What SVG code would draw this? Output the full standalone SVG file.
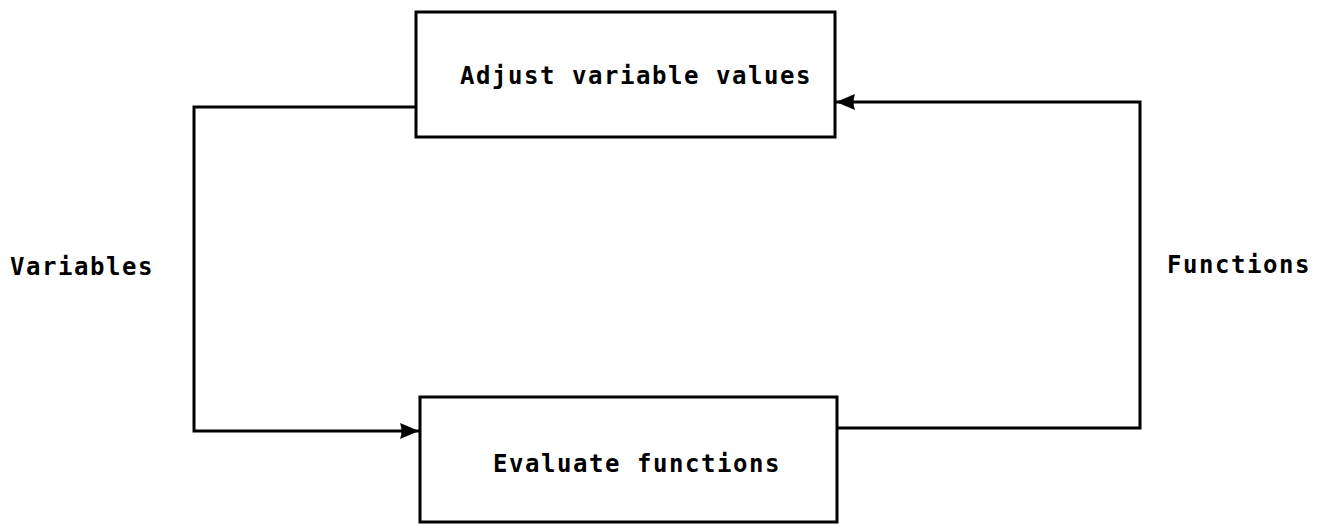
<svg xmlns="http://www.w3.org/2000/svg" width="1325" height="524" viewBox="0 0 1325 524">
  <style>
    .box { fill: #ffffff; stroke: #000000; stroke-width: 3; }
    .wire { fill: none; stroke: #000000; stroke-width: 3; }
    .lbl { font-family: "DejaVu Sans Mono", "Liberation Mono", monospace; font-weight: bold; font-size: 24px; fill: #000000; letter-spacing: 1.55px; }
  </style>
  <defs>
    <marker id="arrow" markerUnits="userSpaceOnUse" markerWidth="22" markerHeight="20" refX="19" refY="9" orient="auto">
      <path d="M0,1 L19,9 L0,17 Q3,9 0,1 Z" fill="#000000"/>
    </marker>
  </defs>

  <g id="connectors">
    <!-- variables loop: adjust -> evaluate -->
    <polyline class="wire" points="415,107 194,107 194,431 419,431" marker-end="url(#arrow)"/>
    <!-- functions loop: evaluate -> adjust -->
    <polyline class="wire" points="837,428 1140,428 1140,102 836,102" marker-end="url(#arrow)"/>
  </g>

  <g id="node-adjust">
    <rect class="box" x="416" y="12" width="419" height="125"/>
    <text class="lbl" x="460" y="84">Adjust variable values</text>
  </g>

  <g id="node-evaluate">
    <rect class="box" x="420" y="397" width="417" height="125"/>
    <text class="lbl" x="493" y="472">Evaluate functions</text>
  </g>

  <g id="label-variables">
    <text class="lbl" x="10" y="275">Variables</text>
  </g>

  <g id="label-functions">
    <text class="lbl" x="1167" y="273">Functions</text>
  </g>
</svg>
